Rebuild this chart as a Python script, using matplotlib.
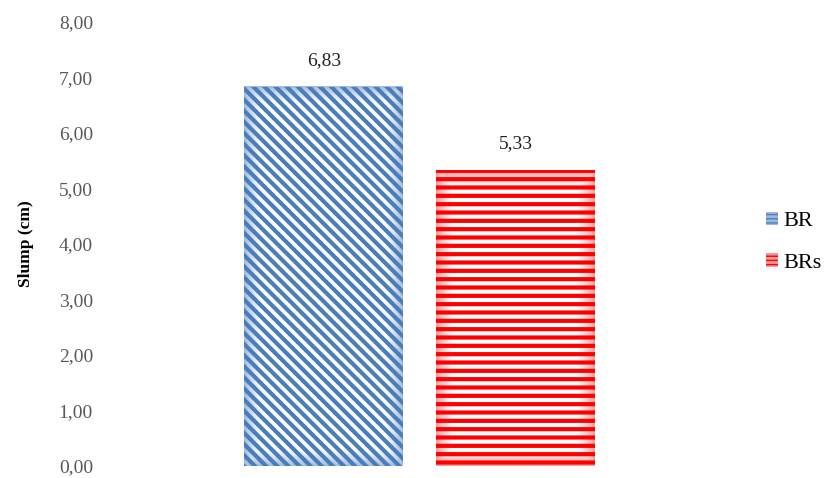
import matplotlib
matplotlib.use("Agg")
import numpy as np
import matplotlib.pyplot as plt
from matplotlib.patches import Patch
from matplotlib.colors import to_rgb

series = ["BR", "BRs"]
slump = [6.83, 5.33]
y_ticks = [0, 1, 2, 3, 4, 5, 6, 7, 8]

plt.rcParams["font.family"] = ["Liberation Serif", "DejaVu Serif"]

blue = "#4a7ebb"
red = "#ff0000"
glows = ["#9db8dd", "#ee9a9a"]

fig = plt.figure(figsize=(8.32, 4.78), dpi=100)
ax = fig.add_axes([0.120, 0.0251, 0.769, 0.929])
ax.set_xlim(-0.5, 0.5)
ax.set_ylim(0, 8)

xpos = [-0.15, 0.15]
width = 0.248
hatches = ["\\\\\\", "--"]
colors = [blue, red]


def edge_glow(x0, x1, y1, color, z):
    # soft shading that fades in from the bar outline
    (px0, py0), (px1, py1) = ax.transData.transform([(x0, 0), (x1, y1)])
    nx, ny = int(abs(px1 - px0)), int(abs(py1 - py0))
    gx = np.arange(nx) + 0.5
    gy = np.arange(ny) + 0.5
    dx = np.minimum(gx, nx - gx)[None, :]
    dy = np.minimum(gy, ny - gy)[:, None]
    d = np.minimum(dx, dy)
    a = np.clip(1 - d / 18.0, 0, 1) ** 1.3
    img = np.zeros((ny, nx, 4))
    img[..., :3] = to_rgb(color)
    img[..., 3] = a
    ax.imshow(img, extent=(x0, x1, 0, y1), origin="lower", aspect="auto",
              interpolation="bilinear", zorder=z)


for x, v, h, c, g in zip(xpos, slump, hatches, colors, glows):
    ax.bar(x, v, width=width, color="white", linewidth=0, zorder=1)
    edge_glow(x - width / 2, x + width / 2, v, g, 1.5)
    b = ax.bar(x, v, width=width, color="none", edgecolor=c, hatch=h,
               linewidth=0, zorder=2)
    for p in b.patches:
        if hasattr(p, "set_hatch_linewidth"):
            p.set_hatch_linewidth(3.0)
    ax.annotate(f"{v:.2f}".replace(".", ","), (x, v), xytext=(0, 13),
                textcoords="offset points", ha="center", va="bottom",
                fontsize=14, color="#222222")

ax.set_xlim(-0.5, 0.5)
ax.set_ylim(0, 8)
ax.set_yticks(y_ticks)
ax.set_yticklabels([f"{t:.2f}".replace(".", ",") for t in y_ticks])
ax.set_xticks([])
ax.tick_params(axis="y", length=0, pad=5, labelsize=14, labelcolor="#595959")
for s in ax.spines.values():
    s.set_visible(False)
ax.set_ylabel("Slump (cm)", fontsize=12.5, fontweight="bold")
ax.yaxis.set_label_coords(-0.103, 0.5)

handles = [Patch(facecolor=g, edgecolor=c, hatch="----", linewidth=0)
           for c, g in zip(colors, glows)]
for hd in handles:
    if hasattr(hd, "set_hatch_linewidth"):
        hd.set_hatch_linewidth(1.6)
fig.legend(handles, series, loc="center left", bbox_to_anchor=(0.9207, 0.493),
           frameon=False, fontsize=16, handlelength=0.55, handleheight=0.55,
           handletextpad=0.25, labelspacing=1.0, borderpad=0, borderaxespad=0)

fig.savefig("out.png", dpi=100)
